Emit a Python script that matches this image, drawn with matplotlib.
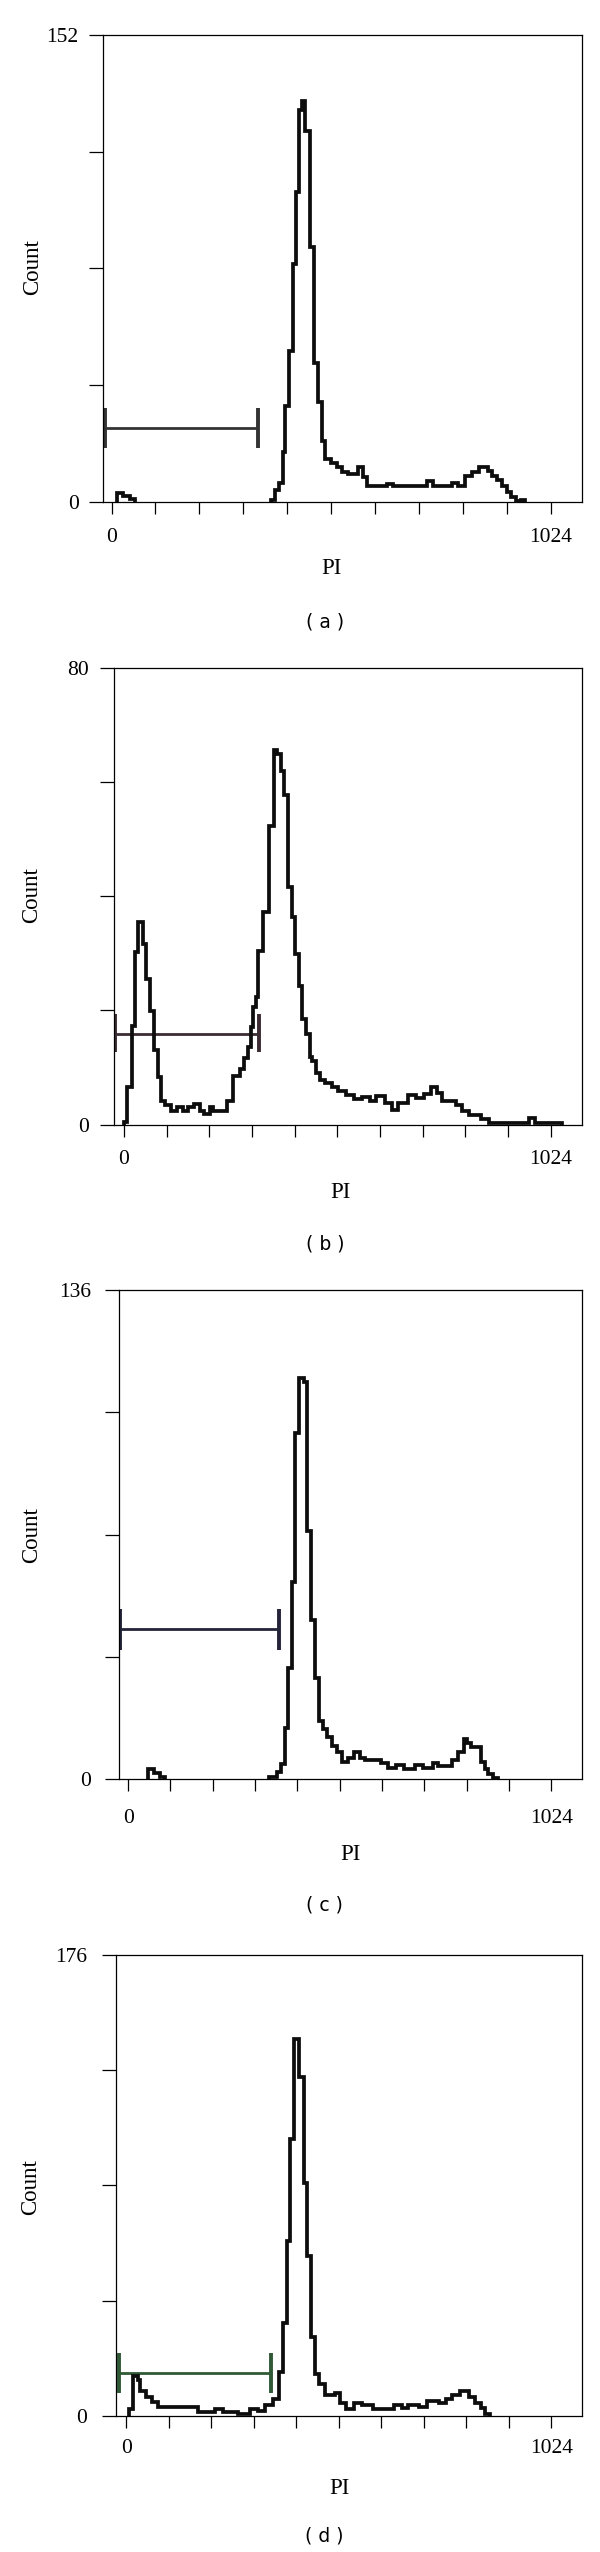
import numpy as np
import matplotlib
matplotlib.use("Agg")
import matplotlib.pyplot as plt

# ---------------- data (bin edges, counts; last edge closes the histogram) ----------------
a_edges = [13, 27, 43, 54, 372, 381, 390, 399, 405, 414, 423, 431, 437, 445, 451, 463, 473, 482,
           490, 498, 511, 525, 538, 551, 574, 587, 596, 641, 655, 735, 749, 794, 807, 825, 841,
           856, 877, 888, 898, 910, 922, 932, 943, 950, 955, 964]
a_counts = [2.9, 2.0, 1.1, 0, 0.7, 4.0, 6.2, 16.2, 31.2, 49.1, 77.3, 100.7, 127.5, 130.5, 120.8,
            83.0, 45.2, 32.5, 19.9, 13.9, 12.6, 11.3, 9.6, 9.0, 11.3, 8.2, 5.3, 6.0, 5.3, 6.9, 5.3,
            6.2, 5.3, 8.6, 9.6, 11.3, 10.0, 8.6, 7.3, 5.3, 3.3, 1.6, 0.4, 0, 0.7]

b_edges = [0, 7.4, 19.4, 27.7, 35.1, 46.1, 53.5, 62.7, 72, 81.2, 88.6, 99.6, 113.5, 127.3, 141,
           155, 168.8, 182.7, 191.9, 205.7, 215, 247.2, 261, 279.5, 288.7, 298, 304.4, 310, 316.4,
           322.9, 334.9, 348.7, 359.8, 367.2, 376.4, 383.8, 393, 402.2, 411.4, 420.7, 427.1,
           436.3, 445.6, 452, 461.3, 470.5, 482.5, 498.2, 514.8, 533.2, 551.7, 570.1, 590, 605,
           625.5, 643.9, 657.7, 680.8, 700, 720, 736.2, 750, 763.8, 796.1, 810, 828.4, 856,
           874.5, 971.4, 985.2, 1049.8]
b_counts = [0.5, 6.6, 17.3, 30.2, 35.5, 31.6, 25.5, 19.8, 13.0, 8.4, 4.1, 3.4, 2.4, 3.0, 2.4,
            3.0, 3.6, 2.4, 1.9, 3.0, 2.4, 4.1, 8.5, 9.7, 11.6, 13.5, 17.0, 20.5, 22.3, 30.4, 37.3,
            52.3, 65.6, 64.9, 61.9, 57.8, 41.6, 36.3, 29.8, 24.2, 18.4, 15.9, 11.9, 11.2, 9.1,
            7.8, 7.3, 6.6, 5.9, 5.1, 4.4, 4.8, 4.2, 5.0, 3.7, 2.6, 3.7, 5.1, 4.6, 5.3, 6.6, 5.5,
            4.1, 3.4, 2.3, 1.6, 0.9, 0.35, 1.2, 0.35]

c_edges = [48.4, 62.4, 76.3, 90, 341.6, 360, 369.6, 380.7, 388, 395.6, 405, 414, 425.4, 433, 442,
           453.3, 462.6, 472, 481, 492.4, 504.5, 518.5, 532.5, 546.5, 560, 574, 611.6, 630, 649,
           667, 695, 714, 737, 751, 784, 798, 812, 821, 830, 854, 863, 872, 883, 895]
c_counts = [2.9, 1.8, 0.7, 0, 0.6, 2.0, 4.3, 14.3, 30.9, 54.7, 96.3, 111.4, 110.3, 68.9, 44.2,
            28.1, 16.2, 13.9, 11.7, 9.4, 7.7, 4.9, 6.0, 7.5, 6.0, 5.4, 4.5, 3.2, 4.1, 2.9, 4.1,
            3.2, 4.5, 3.7, 5.4, 7.7, 11.1, 10.2, 9.1, 4.9, 2.9, 1.5, 0.5]

d_edges = [6.5, 15.8, 27.8, 34.3, 48.2, 62, 76, 173.3, 215, 233.5, 270.6, 298.4, 317, 335.5, 354,
           368, 377, 386.4, 395.7, 405, 417, 428, 435.5, 444.8, 454, 465, 479, 502, 516, 530,
           548.6, 567, 595, 646, 664.5, 678, 706, 724.7, 752.5, 771, 785, 803.5, 826.6, 840.5,
           854.4, 865.5, 877.6]
d_counts = [2.4, 15.1, 13.5, 9.5, 7.2, 5.1, 3.2, 1.3, 2.4, 1.3, 0.8, 2.4, 1.9, 4.0, 6.4, 16.7,
            35.3, 66.8, 105.7, 143.9, 129.6, 89.0, 61.2, 30.2, 15.9, 11.9, 7.9, 8.7, 4.8, 2.4,
            4.8, 4.0, 2.4, 4.0, 2.9, 4.0, 3.2, 5.6, 4.8, 6.4, 7.9, 9.5, 7.2, 4.8, 2.9, 0.8]

# gate markers: (start, end, level, bar_low, bar_high)
a_gate = (-16, 341, 24.2, 17.7, 30.5)
b_gate = (-20, 323, 15.9, 12.7, 19.4)
c_gate = (-19.5, 365, 41.7, 36.0, 47.4)
d_gate = (-16.7, 349, 16.4, 8.7, 23.8)

y_max = [152, 80, 136, 176]
x_tick_labels = ["0", "1024"]
panel_labels = ["( a )", "( b )", "( c )", "( d )"]
x_label = "PI"
y_label = "Count"

# ---------------- layout (pixels in a 600 x 2552 canvas) ----------------
W, H = 600, 2552
# left, right, top, bottom of frame; xlim left, right
frames = [
    (102.7, 582, 34.7, 502.0, -20.6, 1096.7),
    (113.8, 582, 667.8, 1124.5, -24.0, 1098.7),
    (118.5, 582, 1289.6, 1779.4, -23.3, 1098.5),
    (116.5, 582, 1955.3, 2415.6, -23.2, 1098.0),
]
pi_pos = [(331.5, 569), (340, 1192), (350, 1855), (339, 2488)]
count_pos = [(32.7, 267), (31.5, 895), (31.5, 1535), (31, 2187)]
cap_pos = [(325, 622), (325, 1244), (324, 1905), (324, 2536)]
ylab_pad = [7.0, 7.7, 9.4, 10.8]
xlab_pad = [9.9, 9.6, 12.2, 7.9]
gate_colors = ["#333333", "#3b2b33", "#23233a", "#2f5a35"]

serif = ["Liberation Serif", "DejaVu Serif"]


def step_xy(edges, counts):
    xs, ys = [], []
    prev = 0
    for i, v in enumerate(counts):
        x0, x1 = edges[i], edges[i + 1]
        if v == 0:
            if prev != 0:
                xs.append(x0); ys.append(0)
            xs.append(np.nan); ys.append(np.nan)
        else:
            if prev == 0:
                xs.append(x0); ys.append(0)
            xs += [x0, x1]
            ys += [v, v]
        prev = v
    if prev != 0:
        xs.append(edges[-1]); ys.append(0)
    return np.array(xs, float), np.array(ys, float)


fig = plt.figure(figsize=(W / 100, H / 100), dpi=100)
fig.patch.set_facecolor("white")

datasets = [(a_edges, a_counts, a_gate), (b_edges, b_counts, b_gate),
            (c_edges, c_counts, c_gate), (d_edges, d_counts, d_gate)]

for k, ((edges, counts, gate), fr) in enumerate(zip(datasets, frames)):
    l, r, t, b, x0, x1 = fr
    ax = fig.add_axes([l / W, 1 - b / H, (r - l) / W, (b - t) / H])
    ax.set_xlim(x0, x1)
    ax.set_ylim(0, y_max[k])
    for s in ax.spines.values():
        s.set_linewidth(0.9)
        s.set_color("black")

    xs, ys = step_xy(edges, counts)
    ax.plot(xs, ys, color="#0d0d0d", lw=2.7, solid_joinstyle="miter",
            solid_capstyle="butt", clip_on=False, zorder=3)

    gs, ge, gl, blo, bhi = gate
    col = gate_colors[k]
    ax.plot([gs, ge], [gl, gl], color=col, lw=2.0, solid_capstyle="butt", zorder=2)
    ax.plot([gs, gs], [blo, bhi], color=col, lw=2.8, solid_capstyle="butt", zorder=2)
    ax.plot([ge, ge], [blo, bhi], color=col, lw=2.8, solid_capstyle="butt", zorder=2)

    xt = np.linspace(0, 1024, 11)
    ax.set_xticks(xt)
    ax.set_xticklabels([x_tick_labels[0]] + [""] * 9 + [x_tick_labels[1]])
    yt = np.linspace(0, y_max[k], 5)
    ax.set_yticks(yt)
    ax.set_yticklabels(["0", "", "", "", str(y_max[k])])
    ax.tick_params(axis="x", direction="out", length=8.8, width=0.9, pad=xlab_pad[k],
                   labelsize=15.5, top=False)
    ax.tick_params(axis="y", direction="out", length=10.3, width=0.9, pad=ylab_pad[k],
                   labelsize=15.5, right=False)
    for lab in ax.get_xticklabels() + ax.get_yticklabels():
        lab.set_family(serif)

    px, py = pi_pos[k]
    fig.text(px / W, 1 - py / H, x_label, ha="center", va="center", fontsize=16.5,
             family=serif)
    cx, cy = count_pos[k]
    fig.text(cx / W, 1 - cy / H, y_label, ha="center", va="center", rotation=90,
             fontsize=16.5, family=serif)
    qx, qy = cap_pos[k]
    fig.text(qx / W, 1 - qy / H, panel_labels[k], ha="center", va="center", fontsize=13.5,
             family=["DejaVu Sans"])

fig.savefig("out.png", dpi=100, facecolor="white")
